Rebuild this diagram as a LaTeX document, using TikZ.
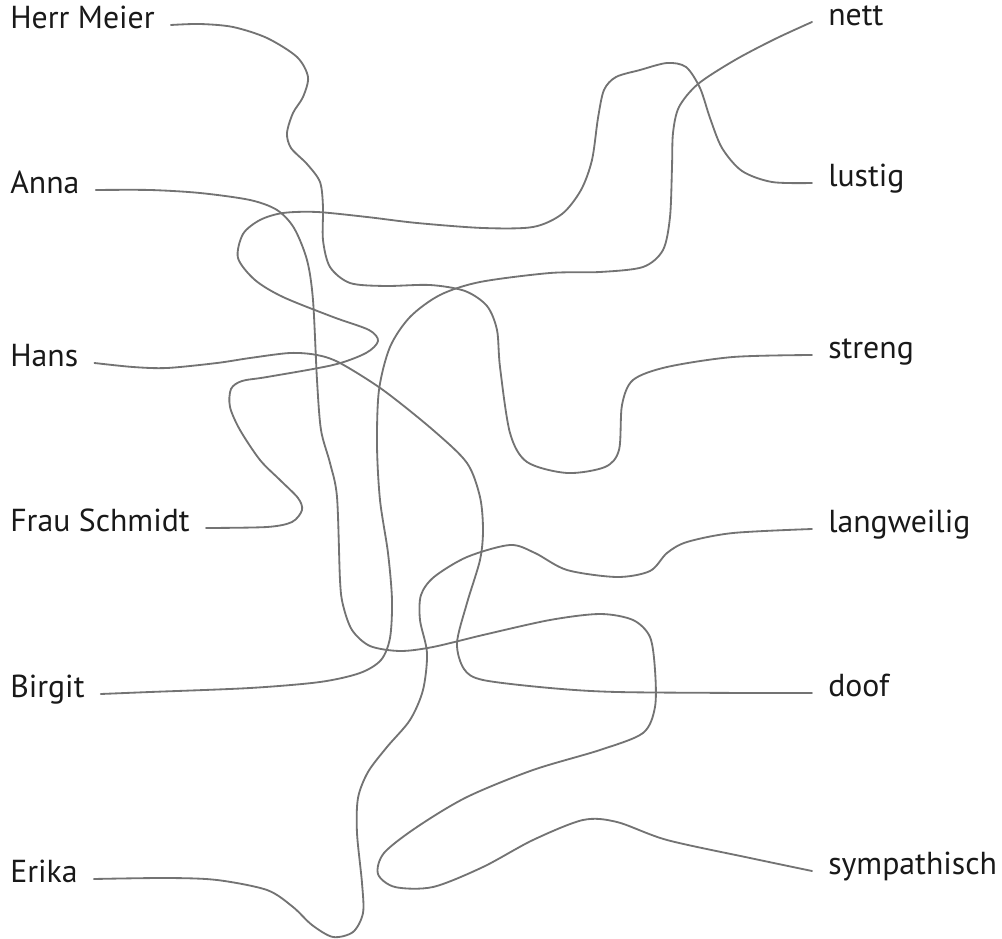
\documentclass[tikz,border=0pt]{standalone}
\usepackage{fontspec}
\setmainfont{PT Sans}
\usetikzlibrary{positioning}

\begin{document}
\begin{tikzpicture}[
        x=0.025cm, y=-0.025cm,
        person/.style={anchor=mid west, inner xsep=0.4cm, inner ysep=0pt, text=black!90, font=\fontsize{22.6}{26}\selectfont},
        trait/.style={person},
        wire/.style={draw=black!55, line width=1.3pt, line cap=round}
    ]
    \useasboundingbox (0,0) rectangle (1002,939);

    \node[person] (meier) at (-6,25) {Herr Meier};
    \node[person] (anna) at (-6,190) {Anna};
    \node[person] (hans) at (-6,363) {Hans};
    \node[person] (schmidt) at (-6,528) {Frau Schmidt};
    \node[person] (birgit) at (-6,694) {Birgit};
    \node[person] (erika) at (-6,879) {Erika};

    \node[trait] (nett) at (812,22) {nett};
    \node[trait] (lustig) at (812,183) {lustig};
    \node[trait] (streng) at (812,355) {streng};
    \node[trait] (langweilig) at (812,529) {langweilig};
    \node[trait] (doof) at (812,693) {doof};
    \node[trait] (sympathisch) at (812,871) {sympathisch};

    \draw[wire] plot[smooth] coordinates {(meier.mid east) (200,24) (233,27) (267,38) (297,57) (308,77) (303,97) (293,113) (287,133) (291,148) (307,164) (320,182) (323,207) (323,240) (330,267) (350,283) (385,286) (430,285) (465,291) (487,306) (497,330) (500,367) (510,433) (527,462) (567,473) (605,467) (619,450) (622,405) (633,380) (667,367) (733,357) (streng.mid west)};
    \draw[wire] plot[smooth] coordinates {(anna.mid east) (150,190) (200,193) (250,200) (277,210) (294,228) (307,260) (313,300) (317,380) (321,430) (330,463) (337,497) (340,580) (343,605) (352,630) (370,646) (400,651) (433,647) (483,635) (550,620) (600,614) (633,620) (650,637) (655,670) (655,707) (643,733) (600,750) (533,770) (467,797) (417,827) (384,853) (378,874) (395,887) (433,887) (483,867) (533,840) (583,820) (617,822) (667,840) (750,858) (sympathisch.mid west)};
    \draw[wire] plot[smooth] coordinates {(hans.mid east) (133,367) (167,368) (217,363) (250,358) (290,353) (317,355) (340,363) (383,390) (433,430) (467,463) (480,497) (483,530) (480,560) (467,603) (457,643) (464,669) (483,680) (550,688) (617,692) (750,693) (doof.mid west)};
    \draw[wire] plot[smooth] coordinates {(birgit.mid east) (150,692) (250,688) (320,682) (360,673) (381,660) (390,638) (392,600) (388,553) (380,500) (377,445) (379,390) (390,347) (410,317) (440,295) (480,282) (550,273) (600,272) (643,267) (663,250) (670,217) (672,167) (673,133) (679,107) (698,84) (735,60) (775,39) (nett.mid west)};
    \draw[wire] plot[smooth] coordinates {(schmidt.mid east) (267,527) (292,522) (302,510) (298,498) (280,480) (260,460) (240,430) (230,407) (231,389) (242,381) (267,377) (333,365) (366,353) (378,341) (369,330) (333,317) (283,297) (255,280) (238,258) (243,234) (260,220) (283,213) (317,212) (367,217) (417,223) (483,228) (533,227) (562,214) (581,190) (592,160) (598,118) (604,90) (616,77) (640,70) (667,63) (686,67) (700,88) (710,118) (722,148) (742,171) (772,182) (lustig.mid west)};
    \draw[wire] plot[smooth] coordinates {(erika.mid east) (167,878) (217,880) (267,890) (293,907) (312,925) (333,937) (353,932) (363,913) (362,883) (357,833) (358,798) (368,772) (387,747) (410,720) (423,690) (427,653) (420,620) (421,595) (434,577) (467,557) (510,545) (535,553) (567,570) (617,577) (650,571) (667,553) (687,542) (733,533) (langweilig.mid west)};
\end{tikzpicture}
\end{document}
